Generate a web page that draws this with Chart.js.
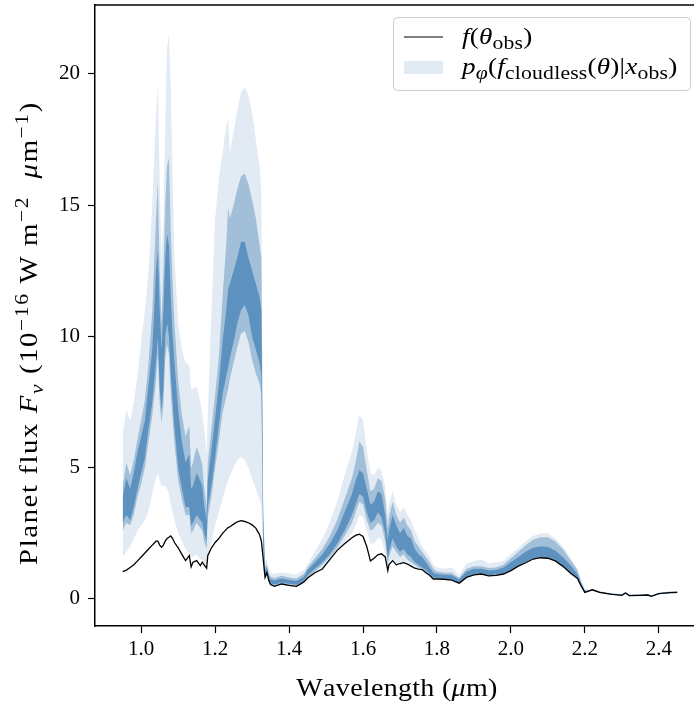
<!DOCTYPE html>
<html>
<head>
<meta charset="utf-8">
<script src="https://cdn.jsdelivr.net/npm/chart.js@4.4.0/dist/chart.umd.min.js"></script>
<style>
  html, body { margin: 0; padding: 0; overflow: hidden; background: #fff; }
  canvas { display: block; }
</style>
</head>
<body>
<canvas id="chart" width="720" height="706"></canvas>
<script>
// wavelength grid (um)
const wavelength = [
  0.95, 0.96, 0.97, 0.98, 0.99, 1.00, 1.01, 1.02, 1.03, 1.04,
  1.045, 1.05, 1.055, 1.06, 1.065, 1.07, 1.075, 1.08, 1.085, 1.09,
  1.10, 1.11, 1.12, 1.13, 1.135, 1.14, 1.15, 1.16, 1.165, 1.17,
  1.177, 1.18, 1.19, 1.20, 1.21, 1.22, 1.23, 1.235, 1.24, 1.25,
  1.26, 1.27, 1.28, 1.29, 1.30, 1.31, 1.32, 1.325, 1.33, 1.335,
  1.34, 1.345, 1.35, 1.36, 1.38, 1.40, 1.42, 1.44, 1.45, 1.47,
  1.49, 1.51, 1.53, 1.55, 1.57, 1.58, 1.59, 1.60, 1.61, 1.62,
  1.63, 1.64, 1.65, 1.66, 1.667, 1.67, 1.68, 1.69, 1.70, 1.71,
  1.72, 1.73, 1.74, 1.75, 1.76, 1.77, 1.78, 1.79, 1.80, 1.82,
  1.84, 1.86, 1.88, 1.90, 1.92, 1.94, 1.96, 1.98, 2.00, 2.02,
  2.04, 2.06, 2.08, 2.10, 2.12, 2.14, 2.16, 2.18, 2.19, 2.20,
  2.21, 2.22, 2.24, 2.27, 2.30, 2.31, 2.32, 2.35, 2.37, 2.38,
  2.40, 2.43, 2.45
];
// f(theta_obs)
const fluxObs = [
  1.04, 1.1, 1.2, 1.3, 1.45, 1.6, 1.75, 1.9, 2.05, 2.2,
  2.2, 2.05, 1.97, 2.05, 2.2, 2.3, 2.35, 2.4, 2.3, 2.15,
  1.95, 1.7, 1.46, 1.65, 1.22, 1.4, 1.46, 1.27, 1.4, 1.3,
  1.17, 1.65, 1.95, 2.15, 2.3, 2.5, 2.65, 2.72, 2.75, 2.85,
  2.94, 2.98, 2.95, 2.9, 2.82, 2.7, 2.45, 2.2, 1.52, 0.82,
  1.0, 0.7, 0.55, 0.48, 0.57, 0.52, 0.48, 0.65, 0.8, 1.0,
  1.14, 1.5, 1.85, 2.1, 2.33, 2.42, 2.47, 2.38, 2.0, 1.45,
  1.55, 1.68, 1.72, 1.6, 1.08, 1.3, 1.46, 1.3, 1.35, 1.38,
  1.33, 1.25, 1.17, 1.14, 1.12, 1.0, 0.9, 0.76, 0.76, 0.75,
  0.72, 0.6, 0.82, 0.92, 0.95, 0.88, 0.9, 0.95, 1.08, 1.25,
  1.38, 1.52, 1.57, 1.55, 1.45, 1.25, 1.0, 0.78, 0.5, 0.25,
  0.3, 0.35, 0.25, 0.18, 0.14, 0.23, 0.13, 0.14, 0.15, 0.1,
  0.2, 0.24, 0.25
];
// posterior bands: light = widest, dark = narrowest
const lightLo = [
  1.6, 1.8, 2.0, 2.3, 2.6, 2.8, 3.0, 3.4, 4.0, 4.6,
  4.8, 4.5, 4.3, 4.3, 4.3, 4.2, 4.0, 3.6, 3.3, 3.0,
  2.5, 2.2, 1.9, 1.7, 1.6, 1.6, 1.7, 1.5, 1.5, 1.3,
  1.2, 1.6, 2.2, 2.8, 3.3, 3.8, 4.3, 4.5, 4.7, 5.0,
  5.3, 5.4, 5.3, 5.0, 4.6, 4.2, 3.8, 3.5, 1.0, 0.8,
  0.95, 0.65, 0.52, 0.46, 0.55, 0.5, 0.46, 0.62, 0.75, 0.98,
  1.15, 1.5, 1.85, 2.15, 2.5, 2.8, 3.2, 3.1, 2.6, 2.1,
  2.1, 2.3, 2.3, 1.7, 1.1, 1.35, 1.5, 1.35, 1.38, 1.4,
  1.35, 1.27, 1.18, 1.15, 1.12, 1.0, 0.9, 0.76, 0.76, 0.74,
  0.71, 0.58, 0.8, 0.9, 0.93, 0.86, 0.88, 0.93, 1.05, 1.22,
  1.35, 1.5, 1.55, 1.52, 1.42, 1.22, 0.98, 0.76, 0.48, 0.23,
  0.27, 0.32, 0.22, 0.15, 0.11, 0.2, 0.1, 0.11, 0.12, 0.07,
  0.17, 0.21, 0.22
];
const lightHi = [
  6.3, 7.2, 6.8, 7.5, 8.5, 9.8, 11.0, 12.5, 15.0, 18.5,
  19.6, 16.0, 13.0, 14.5, 18.0, 21.0, 21.5, 19.5, 16.0, 13.0,
  10.5, 9.5, 9.0, 8.9, 8.0, 8.0, 8.1, 7.5, 7.1, 6.5,
  5.5, 7.0, 11.0, 14.5, 16.0, 17.0, 18.0, 18.3, 17.0, 17.8,
  18.6, 19.3, 19.5, 19.2, 18.5, 17.5, 16.5, 15.5, 3.5, 1.5,
  1.45, 1.15, 1.0, 0.95, 1.02, 0.98, 0.92, 1.1, 1.35, 1.8,
  2.3, 2.9, 3.7, 4.7, 5.6, 6.3, 7.0, 6.8, 5.7, 4.8,
  4.7, 5.0, 4.9, 4.3, 3.2, 3.6, 4.1, 3.6, 3.3, 3.5,
  3.2, 3.0, 2.6, 2.3, 2.0, 1.8, 1.6, 1.3, 1.2, 1.15,
  1.2, 0.9, 1.35, 1.45, 1.5, 1.35, 1.4, 1.45, 1.7, 1.95,
  2.2, 2.4, 2.5, 2.5, 2.3, 2.0, 1.6, 1.15, 0.7, 0.36,
  0.35, 0.4, 0.3, 0.23, 0.19, 0.28, 0.18, 0.19, 0.2, 0.15,
  0.25, 0.29, 0.3
];
const midLo = [
  2.6, 2.9, 2.8, 3.2, 3.9, 4.4, 5.0, 6.0, 7.0, 8.3,
  9.3, 7.4, 6.7, 7.4, 9.2, 9.7, 9.3, 7.8, 6.8, 5.9,
  4.5, 3.8, 3.2, 3.2, 2.5, 2.6, 2.9, 2.7, 2.6, 2.2,
  1.9, 3.1, 3.9, 5.0, 6.0, 7.1, 7.7, 8.0, 8.4, 9.0,
  9.6, 10.1, 10.2, 9.8, 9.1, 8.6, 8.2, 7.8, 1.7, 0.85,
  1.0, 0.7, 0.56, 0.5, 0.58, 0.54, 0.5, 0.66, 0.8, 1.05,
  1.3, 1.6, 1.95, 2.4, 2.9, 3.3, 3.7, 3.6, 3.0, 2.6,
  2.7, 2.9, 2.8, 2.2, 1.3, 1.6, 2.0, 1.8, 1.6, 1.7,
  1.5, 1.4, 1.3, 1.2, 1.15, 1.03, 0.92, 0.78, 0.78, 0.76,
  0.73, 0.6, 0.83, 0.93, 0.96, 0.88, 0.9, 0.96, 1.08, 1.25,
  1.38, 1.52, 1.57, 1.55, 1.45, 1.25, 1.0, 0.78, 0.5, 0.24,
  0.28, 0.33, 0.23, 0.16, 0.12, 0.21, 0.11, 0.12, 0.13, 0.08,
  0.18, 0.22, 0.23
];
const midHi = [
  4.3, 5.2, 4.7, 5.3, 6.1, 6.8, 7.6, 9.0, 11.0, 14.5,
  15.9, 12.5, 10.5, 12.5, 15.0, 16.5, 16.8, 14.0, 12.0, 10.5,
  8.3, 7.0, 6.2, 6.6, 5.0, 5.2, 5.8, 5.4, 5.1, 4.3,
  3.5, 5.2, 6.5, 7.8, 9.2, 11.5, 13.5, 14.9, 14.5, 15.0,
  15.6, 16.1, 16.2, 15.8, 15.2, 14.5, 13.5, 13.0, 3.3, 1.25,
  1.3, 1.0, 0.85, 0.8, 0.88, 0.82, 0.78, 0.95, 1.2, 1.55,
  1.9, 2.4, 3.0, 3.8, 4.6, 5.2, 6.0, 5.8, 4.9, 4.1,
  4.2, 4.6, 4.5, 3.8, 2.7, 3.1, 3.7, 3.2, 2.9, 3.1,
  2.8, 2.6, 2.2, 2.0, 1.8, 1.6, 1.4, 1.15, 1.05, 1.0,
  1.0, 0.8, 1.15, 1.25, 1.25, 1.18, 1.2, 1.3, 1.55, 1.8,
  2.05, 2.25, 2.35, 2.35, 2.2, 1.9, 1.5, 1.1, 0.65, 0.33,
  0.33, 0.38, 0.28, 0.21, 0.17, 0.26, 0.16, 0.17, 0.18, 0.13,
  0.23, 0.27, 0.28
];
const darkLo = [
  2.9, 3.2, 3.0, 3.5, 4.2, 4.8, 5.4, 6.5, 7.5, 9.0,
  10.0, 8.0, 7.2, 8.0, 10.0, 10.5, 10.0, 8.5, 7.5, 6.5,
  5.0, 4.2, 3.5, 3.5, 2.8, 2.9, 3.2, 3.0, 2.9, 2.5,
  2.2, 3.5, 4.3, 5.4, 6.6, 7.8, 8.5, 8.8, 9.2, 9.8,
  10.5, 11.0, 11.2, 10.8, 10.0, 9.5, 9.0, 8.5, 2.0, 0.9,
  1.05, 0.75, 0.6, 0.55, 0.62, 0.58, 0.54, 0.7, 0.9, 1.15,
  1.4, 1.7, 2.1, 2.6, 3.2, 3.6, 4.0, 3.9, 3.3, 2.9,
  3.0, 3.3, 3.1, 2.5, 1.5, 1.8, 2.3, 2.0, 1.8, 1.9,
  1.7, 1.6, 1.4, 1.3, 1.2, 1.1, 0.95, 0.82, 0.8, 0.78,
  0.75, 0.62, 0.85, 0.95, 0.98, 0.9, 0.93, 0.98, 1.1, 1.28,
  1.42, 1.55, 1.6, 1.58, 1.48, 1.28, 1.02, 0.8, 0.52, 0.25,
  0.29, 0.34, 0.24, 0.17, 0.13, 0.22, 0.12, 0.13, 0.14, 0.09,
  0.19, 0.23, 0.24
];
const darkHi = [
  3.9, 4.6, 4.2, 4.8, 5.6, 6.2, 6.8, 8.2, 9.5, 12.5,
  13.3, 11.0, 9.5, 11.0, 13.0, 13.9, 13.5, 11.5, 10.0, 9.0,
  7.2, 6.0, 5.2, 5.5, 4.2, 4.3, 4.8, 4.5, 4.3, 3.6,
  3.0, 4.5, 5.7, 6.9, 8.2, 9.8, 11.0, 11.8, 12.0, 12.5,
  13.0, 13.6, 13.6, 13.0, 12.5, 12.0, 11.5, 11.0, 3.0, 1.1,
  1.2, 0.9, 0.75, 0.7, 0.78, 0.72, 0.68, 0.85, 1.1, 1.4,
  1.7, 2.1, 2.6, 3.3, 4.0, 4.5, 4.9, 4.8, 4.2, 3.6,
  3.7, 4.1, 4.0, 3.2, 2.2, 2.6, 3.2, 2.8, 2.5, 2.7,
  2.4, 2.3, 1.9, 1.7, 1.6, 1.4, 1.2, 1.0, 0.95, 0.92,
  0.9, 0.75, 1.05, 1.15, 1.15, 1.08, 1.1, 1.2, 1.4, 1.6,
  1.8, 1.95, 2.0, 1.98, 1.85, 1.6, 1.3, 0.95, 0.6, 0.3,
  0.32, 0.37, 0.27, 0.2, 0.16, 0.25, 0.15, 0.16, 0.17, 0.12,
  0.22, 0.26, 0.27
];
const xTicks = [1.0, 1.2, 1.4, 1.6, 1.8, 2.0, 2.2, 2.4];
const yTicks = [0, 5, 10, 15, 20];

const lightBlue = "rgb(226, 235, 243)";
const midBlue = "rgb(161, 191, 216)";
const darkBlue = "rgb(93, 145, 191)";
const serif = '"Liberation Serif", "DejaVu Serif", serif';

function pts(arr) {
  return arr.map((v, i) => ({ x: wavelength[i], y: v }));
}

function band(arr, color, fill, order) {
  return {
    data: pts(arr),
    borderWidth: 0,
    borderColor: "rgba(0,0,0,0)",
    backgroundColor: color,
    fill: fill,
    pointRadius: 0,
    order: order,
  };
}

// text with italics / sub / superscripts, sx = horizontal stretch, ls = letter spacing
function richText(ctx, segs, x, y, size, center, sx, ls, subScale) {
  sx = sx || 1;
  ls = ls || 0;
  subScale = subScale || 0.7;
  const parts = segs.map((s) => {
    const small = s.sub || s.sup;
    const fs = small ? size * subScale : size;
    const font = (s.it ? "italic " : "") + fs + "px " + serif;
    ctx.font = font;
    let dy = 0;
    if (s.sub) dy = size * 0.22;
    if (s.sup) dy = -size * 0.38;
    const chars = Array.from(s.t);
    const widths = chars.map((c) => ctx.measureText(c).width * sx + ls);
    return { chars: chars, font: font, widths: widths, w: widths.reduce((a, b) => a + b, 0), dy: dy };
  });
  const total = parts.reduce((a, p) => a + p.w, 0);
  let cx = center ? x - total / 2 : x;
  parts.forEach((p) => {
    ctx.font = p.font;
    p.chars.forEach((c, k) => {
      ctx.save();
      ctx.translate(cx, y + p.dy);
      ctx.scale(sx, 1);
      ctx.fillText(c, 0, 0);
      ctx.restore();
      cx += p.widths[k];
    });
  });
}

const decor = {
  id: "decor",
  afterDraw(chart) {
    const ctx = chart.ctx;
    const a = chart.chartArea;
    ctx.save();
    // top spine
    ctx.strokeStyle = "#000";
    ctx.lineWidth = 1.5;
    ctx.beginPath();
    ctx.moveTo(a.left - 0.75, a.top);
    ctx.lineTo(a.right, a.top);
    ctx.stroke();

    ctx.fillStyle = "#000";
    ctx.textBaseline = "alphabetic";
    // x title
    richText(ctx, [{ t: "Wavelength (" }, { t: "μ", it: true }, { t: "m)" }], 397, 696, 25, true, 1.12, 0.3);
    // y title
    ctx.save();
    ctx.translate(37, 333);
    ctx.rotate(-Math.PI / 2);
    richText(ctx, [
      { t: "Planet flux " }, { t: "F", it: true }, { t: "ν", it: true, sub: true },
      { t: " (10" }, { t: "−16", sup: true }, { t: " W m" }, { t: "−2", sup: true },
      { t: "  " }, { t: "μ", it: true }, { t: "m" }, { t: "−1", sup: true }, { t: ")" },
    ], 0, 0, 25, true, 1.15, 1.6, 0.75);
    ctx.restore();

    // legend
    ctx.beginPath();
    ctx.roundRect(393.5, 17.5, 297, 73, 4);
    ctx.fillStyle = "rgba(255,255,255,0.8)";
    ctx.fill();
    ctx.strokeStyle = "#cccccc";
    ctx.lineWidth = 1;
    ctx.stroke();
    ctx.strokeStyle = "#000";
    ctx.lineWidth = 1.2;
    ctx.beginPath();
    ctx.moveTo(404, 37);
    ctx.lineTo(443, 37);
    ctx.stroke();
    ctx.fillStyle = lightBlue;
    ctx.fillRect(404, 61, 39, 13);
    ctx.fillStyle = "#000";
    richText(ctx, [
      { t: "f", it: true }, { t: "(" }, { t: "θ", it: true }, { t: "obs", sub: true }, { t: ")" },
    ], 462, 44, 23, false, 1.18, 0.2, 0.8);
    richText(ctx, [
      { t: "p", it: true }, { t: "φ", it: true, sub: true }, { t: "(" }, { t: "f", it: true },
      { t: "cloudless", sub: true }, { t: "(" }, { t: "θ", it: true }, { t: ")|" },
      { t: "x", it: true }, { t: "obs", sub: true }, { t: ")" },
    ], 462, 74, 23, false, 1.18, 0.2, 0.8);
    ctx.restore();
  },
};

new Chart(document.getElementById("chart"), {
  type: "line",
  data: {
    datasets: [
      band(lightHi, lightBlue, "+1", 6),
      band(lightLo, lightBlue, false, 6),
      band(midHi, midBlue, "+1", 5),
      band(midLo, midBlue, false, 5),
      band(darkHi, darkBlue, "+1", 4),
      band(darkLo, darkBlue, false, 4),
      {
        data: pts(fluxObs),
        borderColor: "#000",
        borderWidth: 1.3,
        pointRadius: 0,
        fill: false,
        order: 1,
      },
    ],
  },
  options: {
    responsive: false,
    animation: false,
    layout: { padding: { left: 0, top: 5, right: 15, bottom: 0 } },
    elements: { line: { tension: 0 } },
    plugins: { legend: { display: false }, tooltip: { enabled: false } },
    scales: {
      x: {
        type: "linear",
        min: 0.875,
        max: 2.525,
        afterBuildTicks: (s) => {
          s.ticks = xTicks.map((v) => ({ value: v }));
        },
        afterFit: (s) => {
          s.height = 80;
          s.paddingLeft = 0;
          s.paddingRight = 0;
        },
        ticks: {
          callback: (v) => Number(v).toFixed(1),
          font: { family: serif, size: 21 },
          color: "#000",
          padding: 4,
          maxRotation: 0,
          autoSkip: false,
        },
        grid: { drawOnChartArea: false, drawTicks: true, tickLength: 7, tickColor: "#000", tickWidth: 1.2 },
        border: { color: "#000", width: 1.5 },
      },
      y: {
        min: -1.03,
        max: 22.62,
        afterBuildTicks: (s) => {
          s.ticks = yTicks.map((v) => ({ value: v }));
        },
        afterFit: (s) => {
          s.width = 95;
          s.paddingTop = 0;
          s.paddingBottom = 0;
        },
        ticks: {
          callback: (v) => String(v),
          font: { family: serif, size: 21 },
          color: "#000",
          padding: 8,
          autoSkip: false,
        },
        grid: { drawOnChartArea: false, drawTicks: true, tickLength: 7, tickColor: "#000", tickWidth: 1.2 },
        border: { color: "#000", width: 1.5 },
      },
    },
  },
  plugins: [decor],
});
</script>
</body>
</html>
